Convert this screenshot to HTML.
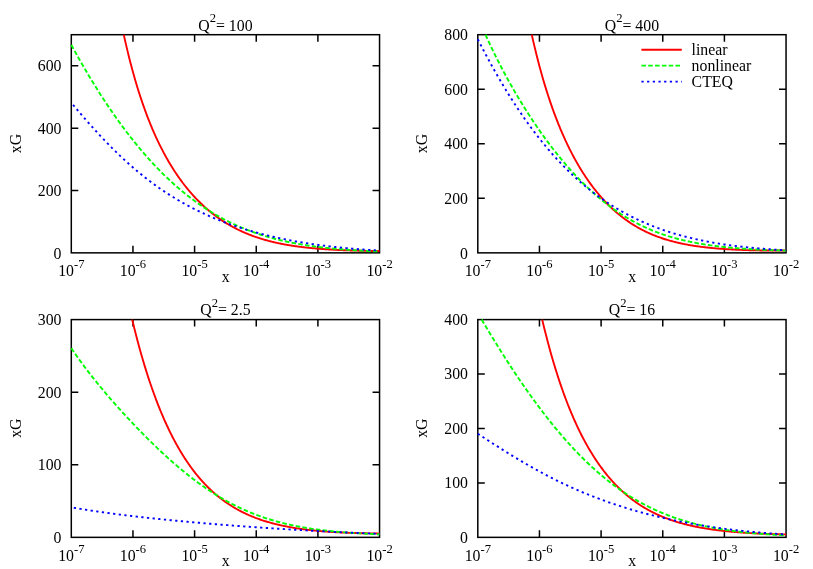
<!DOCTYPE html>
<html>
<head>
<meta charset="utf-8">
<title>xG vs x</title>
<style>
html,body{margin:0;padding:0;background:#fff;}
body{width:813px;height:569px;overflow:hidden;font-family:"Liberation Serif",serif;}
svg{display:block;will-change:transform;}
svg text{font-family:"Liberation Serif", serif;fill:#000;}
</style>
</head>
<body>
<svg width="813" height="569" viewBox="0 0 813 569">
<rect width="813" height="569" fill="#fff"/>
<text x="71.3" y="276.25" text-anchor="middle" font-size="15.8">10<tspan font-size="12.6" dy="-7.9">-7</tspan></text>
<text x="132.95" y="276.25" text-anchor="middle" font-size="15.8">10<tspan font-size="12.6" dy="-7.9">-6</tspan></text>
<text x="194.6" y="276.25" text-anchor="middle" font-size="15.8">10<tspan font-size="12.6" dy="-7.9">-5</tspan></text>
<text x="256.25" y="276.25" text-anchor="middle" font-size="15.8">10<tspan font-size="12.6" dy="-7.9">-4</tspan></text>
<text x="317.9" y="276.25" text-anchor="middle" font-size="15.8">10<tspan font-size="12.6" dy="-7.9">-3</tspan></text>
<text x="379.55" y="276.25" text-anchor="middle" font-size="15.8">10<tspan font-size="12.6" dy="-7.9">-2</tspan></text>
<text x="61.5" y="258.6" text-anchor="end" font-size="15.8">0</text>
<text x="61.5" y="195.92" text-anchor="end" font-size="15.8">200</text>
<text x="61.5" y="133.59" text-anchor="end" font-size="15.8">400</text>
<text x="61.5" y="71.26" text-anchor="end" font-size="15.8">600</text>
<path d="M132.95 252.85v-7M132.95 34.7v7M194.6 252.85v-7M194.6 34.7v7M256.25 252.85v-7M256.25 34.7v7M317.9 252.85v-7M317.9 34.7v7M71.3 190.52h7M379.55 190.52h-7M71.3 128.19h7M379.55 128.19h-7M71.3 65.86h7M379.55 65.86h-7" fill="none" stroke="#000" stroke-width="1.5"/>
<rect x="71.3" y="34.7" width="308.25" height="218.15" fill="none" stroke="#000" stroke-width="1.5"/>
<path d="M123.78 34.7L124.47 37.83L125.24 41.25L126.01 44.61L126.79 47.9L127.56 51.13L128.33 54.29L129.1 57.4L129.87 60.44L130.64 63.43L131.41 66.36L132.18 69.23L132.95 72.06L133.72 74.83L134.49 77.54L135.26 80.21L136.03 82.84L136.8 85.41L137.57 87.94L138.34 90.42L139.11 92.86L139.89 95.26L140.66 97.61L141.43 99.92L142.2 102.2L142.97 104.43L143.74 106.63L144.51 108.79L145.28 110.92L146.05 113.01L146.82 115.06L147.59 117.08L148.36 119.07L149.13 121.02L149.9 122.95L150.67 124.84L151.44 126.7L152.22 128.53L152.99 130.34L153.76 132.11L154.53 133.86L155.3 135.58L156.07 137.28L156.84 138.94L157.61 140.59L158.38 142.2L159.15 143.8L159.92 145.36L160.69 146.91L161.46 148.43L162.23 149.93L163 151.41L163.77 152.87L164.55 154.3L165.32 155.71L166.09 157.11L166.86 158.48L167.63 159.83L168.4 161.17L169.17 162.48L169.94 163.78L170.71 165.05L171.48 166.31L172.25 167.55L173.02 168.78L173.79 169.99L174.56 171.18L175.33 172.35L176.11 173.51L176.88 174.65L177.65 175.77L178.42 176.88L179.19 177.98L179.96 179.06L180.73 180.12L181.5 181.17L182.27 182.21L183.04 183.23L183.81 184.24L184.58 185.24L185.35 186.22L186.12 187.18L186.89 188.14L187.66 189.08L188.44 190.01L189.21 190.93L189.98 191.83L190.75 192.73L191.52 193.61L192.29 194.48L193.06 195.33L193.83 196.18L194.6 197.01L195.37 197.84L196.14 198.65L196.91 199.45L197.68 200.24L198.45 201.02L199.22 201.79L199.99 202.55L200.76 203.3L201.54 204.04L202.31 204.77L203.08 205.49L203.85 206.2L204.62 206.9L205.39 207.59L206.16 208.28L206.93 208.95L207.7 209.61L208.47 210.27L209.24 210.92L210.01 211.55L210.78 212.18L211.55 212.8L212.32 213.41L213.1 214.02L213.87 214.61L214.64 215.2L215.41 215.78L216.18 216.35L216.95 216.92L217.72 217.47L218.49 218.02L219.26 218.56L220.03 219.09L220.8 219.62L221.57 220.14L222.34 220.65L223.11 221.15L223.88 221.65L224.65 222.14L225.43 222.62L226.2 223.1L226.97 223.57L227.74 224.03L228.51 224.49L229.28 224.94L230.05 225.39L230.82 225.82L231.59 226.25L232.36 226.68L233.13 227.1L233.9 227.51L234.67 227.92L235.44 228.32L236.21 228.71L236.98 229.1L237.75 229.49L238.53 229.87L239.3 230.24L240.07 230.6L240.84 230.97L241.61 231.32L242.38 231.67L243.15 232.02L243.92 232.36L244.69 232.69L245.46 233.02L246.23 233.35L247 233.67L247.77 233.99L248.54 234.3L249.31 234.6L250.09 234.9L250.86 235.2L251.63 235.49L252.4 235.78L253.17 236.06L253.94 236.34L254.71 236.61L255.48 236.88L256.25 237.15L257.02 237.41L257.79 237.67L258.56 237.92L259.33 238.17L260.1 238.42L260.87 238.66L261.64 238.89L262.42 239.13L263.19 239.36L263.96 239.58L264.73 239.81L265.5 240.02L266.27 240.24L267.04 240.45L267.81 240.66L268.58 240.86L269.35 241.07L270.12 241.26L270.89 241.46L271.66 241.65L272.43 241.84L273.2 242.02L273.97 242.2L274.75 242.38L275.52 242.56L276.29 242.73L277.06 242.9L277.83 243.07L278.6 243.23L279.37 243.39L280.14 243.55L280.91 243.71L281.68 243.86L282.45 244.01L283.22 244.16L283.99 244.31L284.76 244.45L285.53 244.59L286.3 244.73L287.07 244.86L287.85 244.99L288.62 245.12L289.39 245.25L290.16 245.38L290.93 245.5L291.7 245.62L292.47 245.74L293.24 245.86L294.01 245.98L294.78 246.09L295.55 246.2L296.32 246.31L297.09 246.42L297.86 246.52L298.63 246.62L299.4 246.72L300.18 246.82L300.95 246.92L301.72 247.02L302.49 247.11L303.26 247.2L304.03 247.29L304.8 247.38L305.57 247.47L306.34 247.55L307.11 247.64L307.88 247.72L308.65 247.8L309.42 247.88L310.19 247.96L310.96 248.03L311.74 248.11L312.51 248.18L313.28 248.25L314.05 248.32L314.82 248.39L315.59 248.46L316.36 248.53L317.13 248.59L317.9 248.66L318.67 248.72L319.44 248.78L320.21 248.84L320.98 248.9L321.75 248.96L322.52 249.02L323.29 249.07L324.06 249.13L324.84 249.18L325.61 249.23L326.38 249.28L327.15 249.33L327.92 249.38L328.69 249.43L329.46 249.48L330.23 249.53L331 249.57L331.77 249.62L332.54 249.66L333.31 249.7L334.08 249.74L334.85 249.78L335.62 249.82L336.39 249.86L337.17 249.9L337.94 249.94L338.71 249.98L339.48 250.01L340.25 250.05L341.02 250.08L341.79 250.12L342.56 250.15L343.33 250.18L344.1 250.21L344.87 250.24L345.64 250.27L346.41 250.3L347.18 250.33L347.95 250.36L348.73 250.39L349.5 250.41L350.27 250.44L351.04 250.47L351.81 250.49L352.58 250.51L353.35 250.54L354.12 250.56L354.89 250.58L355.66 250.61L356.43 250.63L357.2 250.65L357.97 250.67L358.74 250.69L359.51 250.71L360.28 250.73L361.06 250.74L361.83 250.76L362.6 250.78L363.37 250.8L364.14 250.81L364.91 250.83L365.68 250.84L366.45 250.86L367.22 250.87L367.99 250.89L368.76 250.9L369.53 250.91L370.3 250.92L371.07 250.94L371.84 250.95L372.61 250.96L373.39 250.97L374.16 250.98L374.93 250.99L375.7 251L376.47 251.01L377.24 251.01L378.01 251.02L378.78 251.03L379.55 251.04" fill="none" stroke="#ff0000" stroke-width="1.9"/>
<path d="M71.3 44.89L72.07 46.3L72.84 47.71L73.61 49.12L74.38 50.51L75.15 51.91L75.92 53.29L76.69 54.68L77.46 56.05L78.24 57.42L79.01 58.78L79.78 60.14L80.55 61.49L81.32 62.84L82.09 64.18L82.86 65.52L83.63 66.85L84.4 68.17L85.17 69.49L85.94 70.8L86.71 72.1L87.48 73.4L88.25 74.7L89.02 75.99L89.79 77.27L90.57 78.55L91.34 79.82L92.11 81.09L92.88 82.35L93.65 83.6L94.42 84.85L95.19 86.09L95.96 87.33L96.73 88.56L97.5 89.79L98.27 91.01L99.04 92.23L99.81 93.43L100.58 94.64L101.35 95.84L102.12 97.03L102.9 98.22L103.67 99.4L104.44 100.57L105.21 101.74L105.98 102.91L106.75 104.06L107.52 105.22L108.29 106.36L109.06 107.51L109.83 108.64L110.6 109.77L111.37 110.9L112.14 112.02L112.91 113.13L113.68 114.24L114.46 115.34L115.23 116.44L116 117.53L116.77 118.62L117.54 119.7L118.31 120.77L119.08 121.84L119.85 122.91L120.62 123.96L121.39 125.02L122.16 126.06L122.93 127.11L123.7 128.14L124.47 129.17L125.24 130.2L126.01 131.22L126.79 132.23L127.56 133.24L128.33 134.24L129.1 135.24L129.87 136.23L130.64 137.22L131.41 138.2L132.18 139.18L132.95 140.15L133.72 141.11L134.49 142.07L135.26 143.03L136.03 143.97L136.8 144.92L137.57 145.86L138.34 146.79L139.11 147.71L139.89 148.64L140.66 149.55L141.43 150.46L142.2 151.37L142.97 152.27L143.74 153.16L144.51 154.05L145.28 154.94L146.05 155.82L146.82 156.69L147.59 157.56L148.36 158.42L149.13 159.28L149.9 160.13L150.67 160.98L151.44 161.82L152.22 162.66L152.99 163.49L153.76 164.31L154.53 165.14L155.3 165.95L156.07 166.76L156.84 167.57L157.61 168.37L158.38 169.16L159.15 169.95L159.92 170.74L160.69 171.51L161.46 172.29L162.23 173.06L163 173.82L163.77 174.58L164.55 175.34L165.32 176.08L166.09 176.83L166.86 177.57L167.63 178.3L168.4 179.03L169.17 179.75L169.94 180.47L170.71 181.18L171.48 181.89L172.25 182.6L173.02 183.29L173.79 183.99L174.56 184.68L175.33 185.36L176.11 186.04L176.88 186.71L177.65 187.38L178.42 188.05L179.19 188.71L179.96 189.36L180.73 190.01L181.5 190.66L182.27 191.3L183.04 191.93L183.81 192.56L184.58 193.19L185.35 193.81L186.12 194.43L186.89 195.04L187.66 195.65L188.44 196.25L189.21 196.85L189.98 197.44L190.75 198.03L191.52 198.61L192.29 199.19L193.06 199.77L193.83 200.34L194.6 200.9L195.37 201.47L196.14 202.02L196.91 202.58L197.68 203.12L198.45 203.67L199.22 204.21L199.99 204.74L200.76 205.27L201.54 205.8L202.31 206.32L203.08 206.84L203.85 207.35L204.62 207.86L205.39 208.36L206.16 208.86L206.93 209.36L207.7 209.85L208.47 210.34L209.24 210.82L210.01 211.3L210.78 211.77L211.55 212.24L212.32 212.71L213.1 213.17L213.87 213.63L214.64 214.09L215.41 214.54L216.18 214.98L216.95 215.43L217.72 215.87L218.49 216.3L219.26 216.73L220.03 217.16L220.8 217.58L221.57 218L222.34 218.41L223.11 218.83L223.88 219.23L224.65 219.64L225.43 220.04L226.2 220.43L226.97 220.82L227.74 221.21L228.51 221.6L229.28 221.98L230.05 222.36L230.82 222.73L231.59 223.1L232.36 223.47L233.13 223.83L233.9 224.19L234.67 224.55L235.44 224.9L236.21 225.25L236.98 225.6L237.75 225.94L238.53 226.28L239.3 226.61L240.07 226.95L240.84 227.28L241.61 227.6L242.38 227.92L243.15 228.24L243.92 228.56L244.69 228.87L245.46 229.18L246.23 229.49L247 229.79L247.77 230.09L248.54 230.39L249.31 230.68L250.09 230.97L250.86 231.26L251.63 231.54L252.4 231.82L253.17 232.1L253.94 232.38L254.71 232.65L255.48 232.92L256.25 233.19L257.02 233.45L257.79 233.71L258.56 233.97L259.33 234.22L260.1 234.48L260.87 234.73L261.64 234.97L262.42 235.22L263.19 235.46L263.96 235.7L264.73 235.93L265.5 236.17L266.27 236.4L267.04 236.63L267.81 236.85L268.58 237.07L269.35 237.29L270.12 237.51L270.89 237.73L271.66 237.94L272.43 238.15L273.2 238.36L273.97 238.56L274.75 238.77L275.52 238.97L276.29 239.17L277.06 239.36L277.83 239.55L278.6 239.75L279.37 239.93L280.14 240.12L280.91 240.31L281.68 240.49L282.45 240.67L283.22 240.85L283.99 241.02L284.76 241.19L285.53 241.37L286.3 241.54L287.07 241.7L287.85 241.87L288.62 242.03L289.39 242.19L290.16 242.35L290.93 242.51L291.7 242.66L292.47 242.82L293.24 242.97L294.01 243.12L294.78 243.26L295.55 243.41L296.32 243.55L297.09 243.69L297.86 243.83L298.63 243.97L299.4 244.11L300.18 244.24L300.95 244.37L301.72 244.51L302.49 244.63L303.26 244.76L304.03 244.89L304.8 245.01L305.57 245.13L306.34 245.26L307.11 245.38L307.88 245.49L308.65 245.61L309.42 245.72L310.19 245.84L310.96 245.95L311.74 246.06L312.51 246.17L313.28 246.27L314.05 246.38L314.82 246.48L315.59 246.58L316.36 246.69L317.13 246.79L317.9 246.88L318.67 246.98L319.44 247.08L320.21 247.17L320.98 247.26L321.75 247.35L322.52 247.44L323.29 247.53L324.06 247.62L324.84 247.71L325.61 247.79L326.38 247.88L327.15 247.96L327.92 248.04L328.69 248.12L329.46 248.2L330.23 248.28L331 248.36L331.77 248.43L332.54 248.51L333.31 248.58L334.08 248.65L334.85 248.72L335.62 248.79L336.39 248.86L337.17 248.93L337.94 249L338.71 249.07L339.48 249.13L340.25 249.19L341.02 249.26L341.79 249.32L342.56 249.38L343.33 249.44L344.1 249.5L344.87 249.56L345.64 249.62L346.41 249.67L347.18 249.73L347.95 249.79L348.73 249.84L349.5 249.89L350.27 249.94L351.04 250L351.81 250.05L352.58 250.1L353.35 250.15L354.12 250.2L354.89 250.24L355.66 250.29L356.43 250.34L357.2 250.38L357.97 250.43L358.74 250.47L359.51 250.51L360.28 250.56L361.06 250.6L361.83 250.64L362.6 250.68L363.37 250.72L364.14 250.76L364.91 250.8L365.68 250.83L366.45 250.87L367.22 250.91L367.99 250.94L368.76 250.98L369.53 251.02L370.3 251.05L371.07 251.08L371.84 251.12L372.61 251.15L373.39 251.18L374.16 251.21L374.93 251.24L375.7 251.27L376.47 251.3L377.24 251.33L378.01 251.36L378.78 251.39L379.55 251.42" fill="none" stroke="#00ff00" stroke-width="1.9" stroke-dasharray="4.55 2.27"/>
<path d="M71.3 102.74L72.07 103.66L72.84 104.57L73.61 105.49L74.38 106.4L75.15 107.32L75.92 108.23L76.69 109.14L77.46 110.05L78.24 110.95L79.01 111.85L79.78 112.76L80.55 113.66L81.32 114.55L82.09 115.45L82.86 116.34L83.63 117.23L84.4 118.12L85.17 119L85.94 119.89L86.71 120.77L87.48 121.64L88.25 122.52L89.02 123.39L89.79 124.26L90.57 125.13L91.34 125.99L92.11 126.85L92.88 127.71L93.65 128.56L94.42 129.41L95.19 130.26L95.96 131.11L96.73 131.95L97.5 132.79L98.27 133.62L99.04 134.46L99.81 135.28L100.58 136.11L101.35 136.93L102.12 137.75L102.9 138.57L103.67 139.38L104.44 140.19L105.21 140.99L105.98 141.79L106.75 142.59L107.52 143.38L108.29 144.17L109.06 144.96L109.83 145.75L110.6 146.52L111.37 147.3L112.14 148.07L112.91 148.84L113.68 149.61L114.46 150.37L115.23 151.12L116 151.88L116.77 152.63L117.54 153.37L118.31 154.11L119.08 154.85L119.85 155.59L120.62 156.32L121.39 157.04L122.16 157.77L122.93 158.48L123.7 159.2L124.47 159.91L125.24 160.62L126.01 161.32L126.79 162.02L127.56 162.72L128.33 163.41L129.1 164.1L129.87 164.78L130.64 165.46L131.41 166.14L132.18 166.81L132.95 167.48L133.72 168.14L134.49 168.8L135.26 169.46L136.03 170.11L136.8 170.76L137.57 171.4L138.34 172.04L139.11 172.68L139.89 173.32L140.66 173.94L141.43 174.57L142.2 175.19L142.97 175.81L143.74 176.42L144.51 177.03L145.28 177.64L146.05 178.24L146.82 178.84L147.59 179.44L148.36 180.03L149.13 180.62L149.9 181.2L150.67 181.78L151.44 182.36L152.22 182.93L152.99 183.5L153.76 184.06L154.53 184.63L155.3 185.18L156.07 185.74L156.84 186.29L157.61 186.84L158.38 187.38L159.15 187.92L159.92 188.46L160.69 188.99L161.46 189.52L162.23 190.04L163 190.57L163.77 191.08L164.55 191.6L165.32 192.11L166.09 192.62L166.86 193.12L167.63 193.62L168.4 194.12L169.17 194.62L169.94 195.11L170.71 195.59L171.48 196.08L172.25 196.56L173.02 197.04L173.79 197.51L174.56 197.98L175.33 198.45L176.11 198.91L176.88 199.37L177.65 199.83L178.42 200.29L179.19 200.74L179.96 201.19L180.73 201.63L181.5 202.07L182.27 202.51L183.04 202.95L183.81 203.38L184.58 203.81L185.35 204.23L186.12 204.66L186.89 205.08L187.66 205.5L188.44 205.91L189.21 206.32L189.98 206.73L190.75 207.13L191.52 207.54L192.29 207.94L193.06 208.33L193.83 208.73L194.6 209.12L195.37 209.5L196.14 209.89L196.91 210.27L197.68 210.65L198.45 211.03L199.22 211.4L199.99 211.77L200.76 212.14L201.54 212.51L202.31 212.87L203.08 213.23L203.85 213.59L204.62 213.94L205.39 214.3L206.16 214.65L206.93 214.99L207.7 215.34L208.47 215.68L209.24 216.02L210.01 216.36L210.78 216.69L211.55 217.02L212.32 217.35L213.1 217.68L213.87 218.01L214.64 218.33L215.41 218.65L216.18 218.96L216.95 219.28L217.72 219.59L218.49 219.9L219.26 220.21L220.03 220.52L220.8 220.82L221.57 221.12L222.34 221.42L223.11 221.72L223.88 222.01L224.65 222.3L225.43 222.59L226.2 222.88L226.97 223.16L227.74 223.45L228.51 223.73L229.28 224.01L230.05 224.28L230.82 224.56L231.59 224.83L232.36 225.1L233.13 225.37L233.9 225.64L234.67 225.9L235.44 226.16L236.21 226.42L236.98 226.68L237.75 226.94L238.53 227.19L239.3 227.44L240.07 227.69L240.84 227.94L241.61 228.19L242.38 228.43L243.15 228.68L243.92 228.92L244.69 229.16L245.46 229.39L246.23 229.63L247 229.86L247.77 230.09L248.54 230.32L249.31 230.55L250.09 230.78L250.86 231L251.63 231.22L252.4 231.44L253.17 231.66L253.94 231.88L254.71 232.1L255.48 232.31L256.25 232.52L257.02 232.73L257.79 232.94L258.56 233.15L259.33 233.35L260.1 233.56L260.87 233.76L261.64 233.96L262.42 234.16L263.19 234.36L263.96 234.55L264.73 234.75L265.5 234.94L266.27 235.13L267.04 235.32L267.81 235.51L268.58 235.69L269.35 235.88L270.12 236.06L270.89 236.25L271.66 236.43L272.43 236.6L273.2 236.78L273.97 236.96L274.75 237.13L275.52 237.31L276.29 237.48L277.06 237.65L277.83 237.82L278.6 237.98L279.37 238.15L280.14 238.32L280.91 238.48L281.68 238.64L282.45 238.8L283.22 238.96L283.99 239.12L284.76 239.28L285.53 239.43L286.3 239.58L287.07 239.74L287.85 239.89L288.62 240.04L289.39 240.19L290.16 240.34L290.93 240.48L291.7 240.63L292.47 240.77L293.24 240.91L294.01 241.05L294.78 241.19L295.55 241.33L296.32 241.47L297.09 241.61L297.86 241.74L298.63 241.88L299.4 242.01L300.18 242.14L300.95 242.27L301.72 242.4L302.49 242.53L303.26 242.66L304.03 242.78L304.8 242.91L305.57 243.03L306.34 243.15L307.11 243.27L307.88 243.39L308.65 243.51L309.42 243.63L310.19 243.75L310.96 243.86L311.74 243.98L312.51 244.09L313.28 244.2L314.05 244.32L314.82 244.43L315.59 244.54L316.36 244.64L317.13 244.75L317.9 244.86L318.67 244.96L319.44 245.07L320.21 245.17L320.98 245.27L321.75 245.38L322.52 245.48L323.29 245.58L324.06 245.67L324.84 245.77L325.61 245.87L326.38 245.96L327.15 246.06L327.92 246.15L328.69 246.24L329.46 246.34L330.23 246.43L331 246.52L331.77 246.61L332.54 246.69L333.31 246.78L334.08 246.87L334.85 246.95L335.62 247.04L336.39 247.12L337.17 247.2L337.94 247.29L338.71 247.37L339.48 247.45L340.25 247.53L341.02 247.6L341.79 247.68L342.56 247.76L343.33 247.84L344.1 247.91L344.87 247.98L345.64 248.06L346.41 248.13L347.18 248.2L347.95 248.27L348.73 248.34L349.5 248.41L350.27 248.48L351.04 248.55L351.81 248.62L352.58 248.68L353.35 248.75L354.12 248.81L354.89 248.88L355.66 248.94L356.43 249L357.2 249.07L357.97 249.13L358.74 249.19L359.51 249.25L360.28 249.31L361.06 249.36L361.83 249.42L362.6 249.48L363.37 249.53L364.14 249.59L364.91 249.64L365.68 249.7L366.45 249.75L367.22 249.8L367.99 249.86L368.76 249.91L369.53 249.96L370.3 250.01L371.07 250.06L371.84 250.11L372.61 250.15L373.39 250.2L374.16 250.25L374.93 250.29L375.7 250.34L376.47 250.38L377.24 250.43L378.01 250.47L378.78 250.52L379.55 250.56" fill="none" stroke="#0000ff" stroke-width="1.9" stroke-dasharray="2.27 3.41" stroke-dashoffset="-2.7"/>
<text x="225.43" y="30.6" text-anchor="middle" font-size="15.8">Q<tspan font-size="12.6" dy="-8.2">2</tspan><tspan dy="8.2">= 100</tspan></text>
<text x="225.62" y="281.95" text-anchor="middle" font-size="15.8">x</text>
<text transform="translate(20.8 143.47) rotate(-90)" text-anchor="middle" font-size="15.8">xG</text>
<text x="477.8" y="276.25" text-anchor="middle" font-size="15.8">10<tspan font-size="12.6" dy="-7.9">-7</tspan></text>
<text x="539.45" y="276.25" text-anchor="middle" font-size="15.8">10<tspan font-size="12.6" dy="-7.9">-6</tspan></text>
<text x="601.1" y="276.25" text-anchor="middle" font-size="15.8">10<tspan font-size="12.6" dy="-7.9">-5</tspan></text>
<text x="662.75" y="276.25" text-anchor="middle" font-size="15.8">10<tspan font-size="12.6" dy="-7.9">-4</tspan></text>
<text x="724.4" y="276.25" text-anchor="middle" font-size="15.8">10<tspan font-size="12.6" dy="-7.9">-3</tspan></text>
<text x="786.05" y="276.25" text-anchor="middle" font-size="15.8">10<tspan font-size="12.6" dy="-7.9">-2</tspan></text>
<text x="468" y="258.6" text-anchor="end" font-size="15.8">0</text>
<text x="468" y="203.71" text-anchor="end" font-size="15.8">200</text>
<text x="468" y="149.18" text-anchor="end" font-size="15.8">400</text>
<text x="468" y="94.64" text-anchor="end" font-size="15.8">600</text>
<text x="468" y="40.1" text-anchor="end" font-size="15.8">800</text>
<path d="M539.45 252.85v-7M539.45 34.7v7M601.1 252.85v-7M601.1 34.7v7M662.75 252.85v-7M662.75 34.7v7M724.4 252.85v-7M724.4 34.7v7M477.8 198.31h7M786.05 198.31h-7M477.8 143.78h7M786.05 143.78h-7M477.8 89.24h7M786.05 89.24h-7" fill="none" stroke="#000" stroke-width="1.5"/>
<rect x="477.8" y="34.7" width="308.25" height="218.15" fill="none" stroke="#000" stroke-width="1.5"/>
<path d="M531.78 34.7L532.51 37.97L533.29 41.34L534.06 44.64L534.83 47.89L535.6 51.08L536.37 54.2L537.14 57.27L537.91 60.29L538.68 63.24L539.45 66.15L540.22 69L540.99 71.81L541.76 74.56L542.53 77.27L543.3 79.93L544.07 82.54L544.84 85.11L545.62 87.63L546.39 90.12L547.16 92.56L547.93 94.96L548.7 97.32L549.47 99.64L550.24 101.92L551.01 104.17L551.78 106.38L552.55 108.56L553.32 110.7L554.09 112.8L554.86 114.88L555.63 116.92L556.4 118.93L557.17 120.91L557.94 122.85L558.72 124.77L559.49 126.66L560.26 128.52L561.03 130.36L561.8 132.16L562.57 133.94L563.34 135.69L564.11 137.42L564.88 139.12L565.65 140.79L566.42 142.44L567.19 144.07L567.96 145.67L568.73 147.26L569.5 148.81L570.27 150.35L571.05 151.86L571.82 153.36L572.59 154.83L573.36 156.28L574.13 157.71L574.9 159.12L575.67 160.51L576.44 161.88L577.21 163.23L577.98 164.57L578.75 165.88L579.52 167.18L580.29 168.46L581.06 169.72L581.83 170.96L582.61 172.19L583.38 173.4L584.15 174.59L584.92 175.77L585.69 176.93L586.46 178.08L587.23 179.21L588 180.32L588.77 181.42L589.54 182.51L590.31 183.58L591.08 184.63L591.85 185.67L592.62 186.7L593.39 187.72L594.16 188.71L594.93 189.7L595.71 190.67L596.48 191.63L597.25 192.58L598.02 193.51L598.79 194.43L599.56 195.34L600.33 196.24L601.1 197.12L601.87 197.99L602.64 198.85L603.41 199.7L604.18 200.53L604.95 201.36L605.72 202.17L606.49 202.97L607.26 203.77L608.04 204.54L608.81 205.31L609.58 206.07L610.35 206.82L611.12 207.56L611.89 208.28L612.66 209L613.43 209.71L614.2 210.41L614.97 211.09L615.74 211.77L616.51 212.44L617.28 213.1L618.05 213.74L618.82 214.38L619.6 215.01L620.37 215.63L621.14 216.25L621.91 216.85L622.68 217.44L623.45 218.03L624.22 218.61L624.99 219.18L625.76 219.74L626.53 220.29L627.3 220.83L628.07 221.37L628.84 221.89L629.61 222.41L630.38 222.93L631.15 223.43L631.92 223.93L632.7 224.42L633.47 224.9L634.24 225.37L635.01 225.84L635.78 226.3L636.55 226.75L637.32 227.2L638.09 227.64L638.86 228.07L639.63 228.49L640.4 228.91L641.17 229.32L641.94 229.73L642.71 230.13L643.48 230.52L644.25 230.91L645.03 231.29L645.8 231.66L646.57 232.03L647.34 232.39L648.11 232.75L648.88 233.1L649.65 233.44L650.42 233.78L651.19 234.11L651.96 234.44L652.73 234.76L653.5 235.08L654.27 235.39L655.04 235.7L655.81 236L656.59 236.29L657.36 236.58L658.13 236.87L658.9 237.15L659.67 237.43L660.44 237.7L661.21 237.97L661.98 238.23L662.75 238.49L663.52 238.74L664.29 238.99L665.06 239.23L665.83 239.47L666.6 239.71L667.37 239.94L668.14 240.17L668.91 240.39L669.69 240.61L670.46 240.82L671.23 241.04L672 241.24L672.77 241.45L673.54 241.65L674.31 241.84L675.08 242.04L675.85 242.23L676.62 242.41L677.39 242.6L678.16 242.78L678.93 242.95L679.7 243.12L680.47 243.29L681.25 243.46L682.02 243.62L682.79 243.78L683.56 243.94L684.33 244.09L685.1 244.25L685.87 244.39L686.64 244.54L687.41 244.68L688.18 244.82L688.95 244.96L689.72 245.09L690.49 245.23L691.26 245.35L692.03 245.48L692.8 245.61L693.57 245.73L694.35 245.85L695.12 245.97L695.89 246.08L696.66 246.19L697.43 246.3L698.2 246.41L698.97 246.52L699.74 246.62L700.51 246.72L701.28 246.82L702.05 246.92L702.82 247.02L703.59 247.11L704.36 247.2L705.13 247.29L705.9 247.38L706.68 247.47L707.45 247.55L708.22 247.64L708.99 247.72L709.76 247.8L710.53 247.87L711.3 247.95L712.07 248.03L712.84 248.1L713.61 248.17L714.38 248.24L715.15 248.31L715.92 248.38L716.69 248.44L717.46 248.51L718.24 248.57L719.01 248.63L719.78 248.69L720.55 248.75L721.32 248.81L722.09 248.86L722.86 248.92L723.63 248.97L724.4 249.03L725.17 249.08L725.94 249.13L726.71 249.18L727.48 249.23L728.25 249.27L729.02 249.32L729.79 249.36L730.57 249.41L731.34 249.45L732.11 249.49L732.88 249.53L733.65 249.57L734.42 249.61L735.19 249.65L735.96 249.68L736.73 249.72L737.5 249.76L738.27 249.79L739.04 249.82L739.81 249.86L740.58 249.89L741.35 249.92L742.12 249.95L742.89 249.98L743.67 250.01L744.44 250.03L745.21 250.06L745.98 250.09L746.75 250.11L747.52 250.14L748.29 250.16L749.06 250.18L749.83 250.2L750.6 250.23L751.37 250.25L752.14 250.27L752.91 250.29L753.68 250.3L754.45 250.32L755.22 250.34L756 250.36L756.77 250.37L757.54 250.39L758.31 250.4L759.08 250.42L759.85 250.43L760.62 250.44L761.39 250.45L762.16 250.47L762.93 250.48L763.7 250.49L764.47 250.5L765.24 250.5L766.01 250.51L766.78 250.52L767.55 250.53L768.33 250.53L769.1 250.54L769.87 250.54L770.64 250.55L771.41 250.55L772.18 250.55L772.95 250.56L773.72 250.56L774.49 250.56L775.26 250.56L776.03 250.56L776.8 250.56L777.57 250.56L778.34 250.55L779.11 250.55L779.88 250.55L780.66 250.54L781.43 250.54L782.2 250.53L782.97 250.52L783.74 250.51L784.51 250.5L785.28 250.5L786.05 250.48" fill="none" stroke="#ff0000" stroke-width="1.9"/>
<path d="M485.47 34.7L485.51 34.77L486.28 36.47L487.05 38.16L487.82 39.83L488.59 41.49L489.36 43.14L490.13 44.77L490.9 46.4L491.67 48.01L492.44 49.61L493.21 51.2L493.98 52.78L494.75 54.35L495.52 55.9L496.3 57.45L497.07 58.98L497.84 60.51L498.61 62.02L499.38 63.53L500.15 65.02L500.92 66.51L501.69 67.98L502.46 69.45L503.23 70.9L504 72.35L504.77 73.79L505.54 75.21L506.31 76.63L507.08 78.04L507.85 79.45L508.62 80.84L509.4 82.22L510.17 83.6L510.94 84.97L511.71 86.33L512.48 87.68L513.25 89.02L514.02 90.36L514.79 91.69L515.56 93.01L516.33 94.32L517.1 95.62L517.87 96.92L518.64 98.21L519.41 99.49L520.18 100.77L520.96 102.03L521.73 103.29L522.5 104.55L523.27 105.79L524.04 107.03L524.81 108.26L525.58 109.49L526.35 110.71L527.12 111.92L527.89 113.12L528.66 114.32L529.43 115.51L530.2 116.69L530.97 117.87L531.74 119.04L532.51 120.2L533.29 121.36L534.06 122.51L534.83 123.66L535.6 124.8L536.37 125.93L537.14 127.05L537.91 128.17L538.68 129.28L539.45 130.39L540.22 131.49L540.99 132.58L541.76 133.67L542.53 134.75L543.3 135.83L544.07 136.9L544.84 137.96L545.62 139.02L546.39 140.07L547.16 141.11L547.93 142.15L548.7 143.18L549.47 144.21L550.24 145.23L551.01 146.24L551.78 147.25L552.55 148.25L553.32 149.24L554.09 150.23L554.86 151.22L555.63 152.2L556.4 153.17L557.17 154.13L557.94 155.09L558.72 156.05L559.49 157L560.26 157.94L561.03 158.87L561.8 159.8L562.57 160.73L563.34 161.65L564.11 162.56L564.88 163.47L565.65 164.37L566.42 165.26L567.19 166.15L567.96 167.03L568.73 167.91L569.5 168.78L570.27 169.65L571.05 170.51L571.82 171.36L572.59 172.21L573.36 173.05L574.13 173.89L574.9 174.72L575.67 175.54L576.44 176.36L577.21 177.17L577.98 177.98L578.75 178.78L579.52 179.58L580.29 180.37L581.06 181.15L581.83 181.93L582.61 182.7L583.38 183.47L584.15 184.23L584.92 184.98L585.69 185.73L586.46 186.48L587.23 187.21L588 187.95L588.77 188.67L589.54 189.39L590.31 190.11L591.08 190.82L591.85 191.52L592.62 192.22L593.39 192.91L594.16 193.6L594.93 194.28L595.71 194.95L596.48 195.62L597.25 196.29L598.02 196.95L598.79 197.6L599.56 198.25L600.33 198.89L601.1 199.52L601.87 200.15L602.64 200.78L603.41 201.4L604.18 202.01L604.95 202.62L605.72 203.23L606.49 203.82L607.26 204.42L608.04 205L608.81 205.58L609.58 206.16L610.35 206.73L611.12 207.3L611.89 207.86L612.66 208.41L613.43 208.96L614.2 209.51L614.97 210.05L615.74 210.58L616.51 211.11L617.28 211.63L618.05 212.15L618.82 212.67L619.6 213.17L620.37 213.68L621.14 214.18L621.91 214.67L622.68 215.16L623.45 215.64L624.22 216.12L624.99 216.59L625.76 217.06L626.53 217.52L627.3 217.98L628.07 218.44L628.84 218.88L629.61 219.33L630.38 219.77L631.15 220.2L631.92 220.63L632.7 221.06L633.47 221.48L634.24 221.89L635.01 222.31L635.78 222.71L636.55 223.12L637.32 223.51L638.09 223.91L638.86 224.3L639.63 224.68L640.4 225.06L641.17 225.44L641.94 225.81L642.71 226.18L643.48 226.54L644.25 226.9L645.03 227.25L645.8 227.6L646.57 227.95L647.34 228.29L648.11 228.63L648.88 228.96L649.65 229.29L650.42 229.62L651.19 229.94L651.96 230.26L652.73 230.57L653.5 230.88L654.27 231.19L655.04 231.49L655.81 231.79L656.59 232.08L657.36 232.38L658.13 232.66L658.9 232.95L659.67 233.23L660.44 233.51L661.21 233.78L661.98 234.05L662.75 234.31L663.52 234.58L664.29 234.84L665.06 235.09L665.83 235.35L666.6 235.6L667.37 235.84L668.14 236.09L668.91 236.32L669.69 236.56L670.46 236.79L671.23 237.02L672 237.25L672.77 237.48L673.54 237.7L674.31 237.92L675.08 238.13L675.85 238.34L676.62 238.55L677.39 238.76L678.16 238.96L678.93 239.16L679.7 239.36L680.47 239.56L681.25 239.75L682.02 239.94L682.79 240.12L683.56 240.31L684.33 240.49L685.1 240.67L685.87 240.85L686.64 241.02L687.41 241.19L688.18 241.36L688.95 241.53L689.72 241.69L690.49 241.85L691.26 242.01L692.03 242.17L692.8 242.33L693.57 242.48L694.35 242.63L695.12 242.78L695.89 242.92L696.66 243.07L697.43 243.21L698.2 243.35L698.97 243.49L699.74 243.62L700.51 243.76L701.28 243.89L702.05 244.02L702.82 244.15L703.59 244.27L704.36 244.4L705.13 244.52L705.9 244.64L706.68 244.76L707.45 244.87L708.22 244.99L708.99 245.1L709.76 245.21L710.53 245.32L711.3 245.43L712.07 245.53L712.84 245.64L713.61 245.74L714.38 245.84L715.15 245.94L715.92 246.04L716.69 246.14L717.46 246.23L718.24 246.33L719.01 246.42L719.78 246.51L720.55 246.6L721.32 246.69L722.09 246.77L722.86 246.86L723.63 246.94L724.4 247.02L725.17 247.11L725.94 247.18L726.71 247.26L727.48 247.34L728.25 247.42L729.02 247.49L729.79 247.57L730.57 247.64L731.34 247.71L732.11 247.78L732.88 247.85L733.65 247.92L734.42 247.98L735.19 248.05L735.96 248.11L736.73 248.18L737.5 248.24L738.27 248.3L739.04 248.36L739.81 248.42L740.58 248.48L741.35 248.54L742.12 248.59L742.89 248.65L743.67 248.7L744.44 248.76L745.21 248.81L745.98 248.86L746.75 248.91L747.52 248.96L748.29 249.01L749.06 249.06L749.83 249.11L750.6 249.15L751.37 249.2L752.14 249.25L752.91 249.29L753.68 249.33L754.45 249.38L755.22 249.42L756 249.46L756.77 249.5L757.54 249.54L758.31 249.58L759.08 249.62L759.85 249.66L760.62 249.7L761.39 249.73L762.16 249.77L762.93 249.8L763.7 249.84L764.47 249.87L765.24 249.91L766.01 249.94L766.78 249.97L767.55 250.01L768.33 250.04L769.1 250.07L769.87 250.1L770.64 250.13L771.41 250.16L772.18 250.18L772.95 250.21L773.72 250.24L774.49 250.27L775.26 250.29L776.03 250.32L776.8 250.35L777.57 250.37L778.34 250.4L779.11 250.42L779.88 250.44L780.66 250.47L781.43 250.49L782.2 250.51L782.97 250.53L783.74 250.55L784.51 250.58L785.28 250.6L786.05 250.62" fill="none" stroke="#00ff00" stroke-width="1.9" stroke-dasharray="4.55 2.27"/>
<path d="M477.8 39.26L478.57 40.77L479.34 42.28L480.11 43.78L480.88 45.27L481.65 46.76L482.42 48.24L483.19 49.71L483.96 51.18L484.74 52.63L485.51 54.09L486.28 55.53L487.05 56.97L487.82 58.4L488.59 59.82L489.36 61.24L490.13 62.65L490.9 64.05L491.67 65.45L492.44 66.84L493.21 68.22L493.98 69.59L494.75 70.96L495.52 72.32L496.3 73.68L497.07 75.02L497.84 76.37L498.61 77.7L499.38 79.02L500.15 80.34L500.92 81.66L501.69 82.96L502.46 84.26L503.23 85.55L504 86.84L504.77 88.11L505.54 89.38L506.31 90.65L507.08 91.91L507.85 93.16L508.62 94.4L509.4 95.63L510.17 96.86L510.94 98.09L511.71 99.3L512.48 100.51L513.25 101.71L514.02 102.91L514.79 104.1L515.56 105.28L516.33 106.45L517.1 107.62L517.87 108.78L518.64 109.93L519.41 111.08L520.18 112.22L520.96 113.36L521.73 114.48L522.5 115.6L523.27 116.72L524.04 117.83L524.81 118.93L525.58 120.02L526.35 121.11L527.12 122.19L527.89 123.26L528.66 124.33L529.43 125.39L530.2 126.45L530.97 127.49L531.74 128.54L532.51 129.57L533.29 130.6L534.06 131.62L534.83 132.64L535.6 133.65L536.37 134.65L537.14 135.64L537.91 136.63L538.68 137.62L539.45 138.6L540.22 139.57L540.99 140.53L541.76 141.49L542.53 142.44L543.3 143.39L544.07 144.33L544.84 145.26L545.62 146.19L546.39 147.11L547.16 148.03L547.93 148.93L548.7 149.84L549.47 150.74L550.24 151.63L551.01 152.51L551.78 153.39L552.55 154.26L553.32 155.13L554.09 155.99L554.86 156.85L555.63 157.7L556.4 158.54L557.17 159.38L557.94 160.21L558.72 161.04L559.49 161.86L560.26 162.67L561.03 163.48L561.8 164.28L562.57 165.08L563.34 165.87L564.11 166.66L564.88 167.44L565.65 168.22L566.42 168.99L567.19 169.75L567.96 170.51L568.73 171.26L569.5 172.01L570.27 172.75L571.05 173.49L571.82 174.22L572.59 174.95L573.36 175.67L574.13 176.38L574.9 177.09L575.67 177.8L576.44 178.5L577.21 179.19L577.98 179.88L578.75 180.57L579.52 181.25L580.29 181.92L581.06 182.59L581.83 183.25L582.61 183.91L583.38 184.57L584.15 185.22L584.92 185.86L585.69 186.5L586.46 187.13L587.23 187.76L588 188.39L588.77 189.01L589.54 189.62L590.31 190.23L591.08 190.84L591.85 191.44L592.62 192.04L593.39 192.63L594.16 193.21L594.93 193.8L595.71 194.37L596.48 194.95L597.25 195.52L598.02 196.08L598.79 196.64L599.56 197.19L600.33 197.75L601.1 198.29L601.87 198.83L602.64 199.37L603.41 199.9L604.18 200.43L604.95 200.96L605.72 201.48L606.49 201.99L607.26 202.51L608.04 203.01L608.81 203.52L609.58 204.02L610.35 204.51L611.12 205L611.89 205.49L612.66 205.97L613.43 206.45L614.2 206.93L614.97 207.4L615.74 207.86L616.51 208.33L617.28 208.79L618.05 209.24L618.82 209.69L619.6 210.14L620.37 210.58L621.14 211.02L621.91 211.46L622.68 211.89L623.45 212.32L624.22 212.75L624.99 213.17L625.76 213.59L626.53 214L627.3 214.41L628.07 214.82L628.84 215.22L629.61 215.62L630.38 216.02L631.15 216.41L631.92 216.8L632.7 217.19L633.47 217.57L634.24 217.95L635.01 218.32L635.78 218.7L636.55 219.07L637.32 219.43L638.09 219.8L638.86 220.15L639.63 220.51L640.4 220.86L641.17 221.21L641.94 221.56L642.71 221.9L643.48 222.24L644.25 222.58L645.03 222.92L645.8 223.25L646.57 223.58L647.34 223.9L648.11 224.22L648.88 224.54L649.65 224.86L650.42 225.17L651.19 225.48L651.96 225.79L652.73 226.09L653.5 226.4L654.27 226.69L655.04 226.99L655.81 227.28L656.59 227.57L657.36 227.86L658.13 228.15L658.9 228.43L659.67 228.71L660.44 228.99L661.21 229.26L661.98 229.53L662.75 229.8L663.52 230.07L664.29 230.33L665.06 230.59L665.83 230.85L666.6 231.11L667.37 231.36L668.14 231.61L668.91 231.86L669.69 232.11L670.46 232.35L671.23 232.59L672 232.83L672.77 233.07L673.54 233.31L674.31 233.54L675.08 233.77L675.85 234L676.62 234.22L677.39 234.44L678.16 234.67L678.93 234.88L679.7 235.1L680.47 235.31L681.25 235.53L682.02 235.74L682.79 235.94L683.56 236.15L684.33 236.35L685.1 236.56L685.87 236.75L686.64 236.95L687.41 237.15L688.18 237.34L688.95 237.53L689.72 237.72L690.49 237.91L691.26 238.09L692.03 238.28L692.8 238.46L693.57 238.64L694.35 238.82L695.12 238.99L695.89 239.17L696.66 239.34L697.43 239.51L698.2 239.68L698.97 239.85L699.74 240.01L700.51 240.17L701.28 240.33L702.05 240.49L702.82 240.65L703.59 240.81L704.36 240.96L705.13 241.12L705.9 241.27L706.68 241.42L707.45 241.57L708.22 241.71L708.99 241.86L709.76 242L710.53 242.14L711.3 242.28L712.07 242.42L712.84 242.56L713.61 242.69L714.38 242.83L715.15 242.96L715.92 243.09L716.69 243.22L717.46 243.35L718.24 243.47L719.01 243.6L719.78 243.72L720.55 243.85L721.32 243.97L722.09 244.09L722.86 244.21L723.63 244.32L724.4 244.44L725.17 244.55L725.94 244.66L726.71 244.78L727.48 244.89L728.25 245L729.02 245.1L729.79 245.21L730.57 245.32L731.34 245.42L732.11 245.52L732.88 245.62L733.65 245.72L734.42 245.82L735.19 245.92L735.96 246.02L736.73 246.11L737.5 246.21L738.27 246.3L739.04 246.39L739.81 246.49L740.58 246.58L741.35 246.66L742.12 246.75L742.89 246.84L743.67 246.93L744.44 247.01L745.21 247.09L745.98 247.18L746.75 247.26L747.52 247.34L748.29 247.42L749.06 247.5L749.83 247.58L750.6 247.65L751.37 247.73L752.14 247.8L752.91 247.88L753.68 247.95L754.45 248.02L755.22 248.09L756 248.16L756.77 248.23L757.54 248.3L758.31 248.37L759.08 248.44L759.85 248.5L760.62 248.57L761.39 248.63L762.16 248.7L762.93 248.76L763.7 248.82L764.47 248.88L765.24 248.94L766.01 249L766.78 249.06L767.55 249.12L768.33 249.17L769.1 249.23L769.87 249.29L770.64 249.34L771.41 249.4L772.18 249.45L772.95 249.5L773.72 249.55L774.49 249.61L775.26 249.66L776.03 249.71L776.8 249.76L777.57 249.8L778.34 249.85L779.11 249.9L779.88 249.95L780.66 249.99L781.43 250.04L782.2 250.08L782.97 250.13L783.74 250.17L784.51 250.21L785.28 250.26L786.05 250.3" fill="none" stroke="#0000ff" stroke-width="1.9" stroke-dasharray="2.27 3.41"/>
<text x="631.92" y="30.6" text-anchor="middle" font-size="15.8">Q<tspan font-size="12.6" dy="-8.2">2</tspan><tspan dy="8.2">= 400</tspan></text>
<text x="632.12" y="281.95" text-anchor="middle" font-size="15.8">x</text>
<text transform="translate(427.3 143.47) rotate(-90)" text-anchor="middle" font-size="15.8">xG</text>
<text x="71.3" y="560.75" text-anchor="middle" font-size="15.8">10<tspan font-size="12.6" dy="-7.9">-7</tspan></text>
<text x="132.95" y="560.75" text-anchor="middle" font-size="15.8">10<tspan font-size="12.6" dy="-7.9">-6</tspan></text>
<text x="194.6" y="560.75" text-anchor="middle" font-size="15.8">10<tspan font-size="12.6" dy="-7.9">-5</tspan></text>
<text x="256.25" y="560.75" text-anchor="middle" font-size="15.8">10<tspan font-size="12.6" dy="-7.9">-4</tspan></text>
<text x="317.9" y="560.75" text-anchor="middle" font-size="15.8">10<tspan font-size="12.6" dy="-7.9">-3</tspan></text>
<text x="379.55" y="560.75" text-anchor="middle" font-size="15.8">10<tspan font-size="12.6" dy="-7.9">-2</tspan></text>
<text x="61.5" y="543.1" text-anchor="end" font-size="15.8">0</text>
<text x="61.5" y="470.17" text-anchor="end" font-size="15.8">100</text>
<text x="61.5" y="397.58" text-anchor="end" font-size="15.8">200</text>
<text x="61.5" y="325" text-anchor="end" font-size="15.8">300</text>
<path d="M132.95 537.35v-7M132.95 319.6v7M194.6 537.35v-7M194.6 319.6v7M256.25 537.35v-7M256.25 319.6v7M317.9 537.35v-7M317.9 319.6v7M71.3 464.77h7M379.55 464.77h-7M71.3 392.18h7M379.55 392.18h-7" fill="none" stroke="#000" stroke-width="1.5"/>
<rect x="71.3" y="319.6" width="308.25" height="217.75" fill="none" stroke="#000" stroke-width="1.5"/>
<path d="M132.21 319.6L132.95 322.66L133.72 325.82L134.49 328.93L135.26 331.99L136.03 335.01L136.8 337.98L137.57 340.91L138.34 343.8L139.11 346.64L139.89 349.44L140.66 352.19L141.43 354.91L142.2 357.58L142.97 360.22L143.74 362.82L144.51 365.37L145.28 367.89L146.05 370.38L146.82 372.83L147.59 375.24L148.36 377.61L149.13 379.95L149.9 382.26L150.67 384.53L151.44 386.77L152.22 388.98L152.99 391.16L153.76 393.3L154.53 395.42L155.3 397.5L156.07 399.55L156.84 401.57L157.61 403.57L158.38 405.53L159.15 407.47L159.92 409.38L160.69 411.26L161.46 413.11L162.23 414.94L163 416.74L163.77 418.52L164.55 420.27L165.32 421.99L166.09 423.69L166.86 425.37L167.63 427.02L168.4 428.65L169.17 430.25L169.94 431.84L170.71 433.39L171.48 434.93L172.25 436.45L173.02 437.94L173.79 439.41L174.56 440.86L175.33 442.29L176.11 443.7L176.88 445.09L177.65 446.46L178.42 447.81L179.19 449.14L179.96 450.46L180.73 451.75L181.5 453.02L182.27 454.28L183.04 455.52L183.81 456.74L184.58 457.94L185.35 459.13L186.12 460.3L186.89 461.45L187.66 462.58L188.44 463.7L189.21 464.81L189.98 465.89L190.75 466.96L191.52 468.02L192.29 469.06L193.06 470.09L193.83 471.1L194.6 472.09L195.37 473.08L196.14 474.04L196.91 475L197.68 475.94L198.45 476.86L199.22 477.77L199.99 478.67L200.76 479.56L201.54 480.43L202.31 481.29L203.08 482.14L203.85 482.97L204.62 483.8L205.39 484.61L206.16 485.41L206.93 486.19L207.7 486.97L208.47 487.73L209.24 488.49L210.01 489.23L210.78 489.96L211.55 490.68L212.32 491.39L213.1 492.09L213.87 492.78L214.64 493.45L215.41 494.12L216.18 494.78L216.95 495.43L217.72 496.07L218.49 496.7L219.26 497.31L220.03 497.92L220.8 498.53L221.57 499.12L222.34 499.7L223.11 500.27L223.88 500.84L224.65 501.4L225.43 501.94L226.2 502.48L226.97 503.02L227.74 503.54L228.51 504.05L229.28 504.56L230.05 505.06L230.82 505.55L231.59 506.04L232.36 506.52L233.13 506.99L233.9 507.45L234.67 507.9L235.44 508.35L236.21 508.79L236.98 509.23L237.75 509.66L238.53 510.08L239.3 510.49L240.07 510.9L240.84 511.3L241.61 511.7L242.38 512.09L243.15 512.47L243.92 512.85L244.69 513.22L245.46 513.58L246.23 513.94L247 514.3L247.77 514.64L248.54 514.99L249.31 515.32L250.09 515.66L250.86 515.98L251.63 516.3L252.4 516.62L253.17 516.93L253.94 517.24L254.71 517.54L255.48 517.83L256.25 518.13L257.02 518.41L257.79 518.7L258.56 518.97L259.33 519.25L260.1 519.52L260.87 519.78L261.64 520.04L262.42 520.3L263.19 520.55L263.96 520.8L264.73 521.04L265.5 521.28L266.27 521.51L267.04 521.75L267.81 521.97L268.58 522.2L269.35 522.42L270.12 522.64L270.89 522.85L271.66 523.06L272.43 523.27L273.2 523.47L273.97 523.67L274.75 523.86L275.52 524.06L276.29 524.25L277.06 524.43L277.83 524.62L278.6 524.8L279.37 524.97L280.14 525.15L280.91 525.32L281.68 525.49L282.45 525.65L283.22 525.82L283.99 525.98L284.76 526.14L285.53 526.29L286.3 526.44L287.07 526.59L287.85 526.74L288.62 526.88L289.39 527.03L290.16 527.16L290.93 527.3L291.7 527.44L292.47 527.57L293.24 527.7L294.01 527.83L294.78 527.95L295.55 528.08L296.32 528.2L297.09 528.32L297.86 528.43L298.63 528.55L299.4 528.66L300.18 528.77L300.95 528.88L301.72 528.99L302.49 529.1L303.26 529.2L304.03 529.3L304.8 529.4L305.57 529.5L306.34 529.6L307.11 529.69L307.88 529.78L308.65 529.87L309.42 529.96L310.19 530.05L310.96 530.14L311.74 530.22L312.51 530.31L313.28 530.39L314.05 530.47L314.82 530.55L315.59 530.63L316.36 530.7L317.13 530.78L317.9 530.85L318.67 530.92L319.44 530.99L320.21 531.06L320.98 531.13L321.75 531.19L322.52 531.26L323.29 531.32L324.06 531.39L324.84 531.45L325.61 531.51L326.38 531.57L327.15 531.63L327.92 531.68L328.69 531.74L329.46 531.79L330.23 531.85L331 531.9L331.77 531.95L332.54 532L333.31 532.05L334.08 532.1L334.85 532.14L335.62 532.19L336.39 532.23L337.17 532.28L337.94 532.32L338.71 532.36L339.48 532.41L340.25 532.45L341.02 532.49L341.79 532.52L342.56 532.56L343.33 532.6L344.1 532.63L344.87 532.67L345.64 532.7L346.41 532.74L347.18 532.77L347.95 532.8L348.73 532.83L349.5 532.86L350.27 532.89L351.04 532.92L351.81 532.95L352.58 532.97L353.35 533L354.12 533.02L354.89 533.05L355.66 533.07L356.43 533.09L357.2 533.12L357.97 533.14L358.74 533.16L359.51 533.18L360.28 533.2L361.06 533.22L361.83 533.23L362.6 533.25L363.37 533.27L364.14 533.28L364.91 533.3L365.68 533.31L366.45 533.32L367.22 533.34L367.99 533.35L368.76 533.36L369.53 533.37L370.3 533.38L371.07 533.39L371.84 533.39L372.61 533.4L373.39 533.41L374.16 533.41L374.93 533.42L375.7 533.42L376.47 533.43L377.24 533.43L378.01 533.43L378.78 533.43L379.55 533.44" fill="none" stroke="#ff0000" stroke-width="1.9"/>
<path d="M71.3 348.17L72.07 349.31L72.84 350.44L73.61 351.56L74.38 352.68L75.15 353.79L75.92 354.89L76.69 355.99L77.46 357.08L78.24 358.16L79.01 359.23L79.78 360.3L80.55 361.36L81.32 362.41L82.09 363.46L82.86 364.5L83.63 365.54L84.4 366.57L85.17 367.6L85.94 368.62L86.71 369.63L87.48 370.64L88.25 371.64L89.02 372.64L89.79 373.64L90.57 374.63L91.34 375.61L92.11 376.59L92.88 377.56L93.65 378.53L94.42 379.5L95.19 380.46L95.96 381.42L96.73 382.37L97.5 383.32L98.27 384.27L99.04 385.21L99.81 386.15L100.58 387.08L101.35 388.01L102.12 388.94L102.9 389.86L103.67 390.78L104.44 391.7L105.21 392.61L105.98 393.52L106.75 394.42L107.52 395.33L108.29 396.23L109.06 397.12L109.83 398.02L110.6 398.91L111.37 399.79L112.14 400.68L112.91 401.56L113.68 402.44L114.46 403.32L115.23 404.19L116 405.06L116.77 405.93L117.54 406.79L118.31 407.66L119.08 408.52L119.85 409.37L120.62 410.23L121.39 411.08L122.16 411.93L122.93 412.78L123.7 413.62L124.47 414.46L125.24 415.3L126.01 416.14L126.79 416.97L127.56 417.8L128.33 418.63L129.1 419.46L129.87 420.29L130.64 421.11L131.41 421.93L132.18 422.75L132.95 423.56L133.72 424.37L134.49 425.18L135.26 425.99L136.03 426.8L136.8 427.6L137.57 428.4L138.34 429.2L139.11 430L139.89 430.79L140.66 431.58L141.43 432.37L142.2 433.16L142.97 433.94L143.74 434.72L144.51 435.5L145.28 436.28L146.05 437.05L146.82 437.82L147.59 438.59L148.36 439.36L149.13 440.12L149.9 440.88L150.67 441.64L151.44 442.4L152.22 443.15L152.99 443.9L153.76 444.65L154.53 445.4L155.3 446.14L156.07 446.88L156.84 447.62L157.61 448.35L158.38 449.09L159.15 449.82L159.92 450.54L160.69 451.27L161.46 451.99L162.23 452.71L163 453.42L163.77 454.14L164.55 454.85L165.32 455.55L166.09 456.26L166.86 456.96L167.63 457.66L168.4 458.35L169.17 459.04L169.94 459.73L170.71 460.42L171.48 461.1L172.25 461.78L173.02 462.46L173.79 463.13L174.56 463.81L175.33 464.47L176.11 465.14L176.88 465.8L177.65 466.46L178.42 467.11L179.19 467.76L179.96 468.41L180.73 469.06L181.5 469.7L182.27 470.34L183.04 470.97L183.81 471.6L184.58 472.23L185.35 472.86L186.12 473.48L186.89 474.1L187.66 474.71L188.44 475.32L189.21 475.93L189.98 476.54L190.75 477.14L191.52 477.73L192.29 478.33L193.06 478.92L193.83 479.51L194.6 480.09L195.37 480.67L196.14 481.24L196.91 481.82L197.68 482.39L198.45 482.95L199.22 483.51L199.99 484.07L200.76 484.62L201.54 485.17L202.31 485.72L203.08 486.26L203.85 486.8L204.62 487.34L205.39 487.87L206.16 488.4L206.93 488.92L207.7 489.44L208.47 489.96L209.24 490.47L210.01 490.98L210.78 491.49L211.55 491.99L212.32 492.49L213.1 492.98L213.87 493.47L214.64 493.96L215.41 494.44L216.18 494.92L216.95 495.4L217.72 495.87L218.49 496.34L219.26 496.8L220.03 497.26L220.8 497.72L221.57 498.17L222.34 498.62L223.11 499.07L223.88 499.51L224.65 499.95L225.43 500.38L226.2 500.81L226.97 501.24L227.74 501.66L228.51 502.08L229.28 502.5L230.05 502.91L230.82 503.32L231.59 503.72L232.36 504.12L233.13 504.52L233.9 504.91L234.67 505.3L235.44 505.69L236.21 506.07L236.98 506.45L237.75 506.82L238.53 507.19L239.3 507.56L240.07 507.93L240.84 508.29L241.61 508.65L242.38 509L243.15 509.35L243.92 509.7L244.69 510.04L245.46 510.38L246.23 510.72L247 511.05L247.77 511.38L248.54 511.7L249.31 512.03L250.09 512.35L250.86 512.66L251.63 512.97L252.4 513.28L253.17 513.59L253.94 513.89L254.71 514.19L255.48 514.49L256.25 514.78L257.02 515.07L257.79 515.36L258.56 515.64L259.33 515.92L260.1 516.2L260.87 516.47L261.64 516.74L262.42 517.01L263.19 517.27L263.96 517.53L264.73 517.79L265.5 518.05L266.27 518.3L267.04 518.55L267.81 518.8L268.58 519.04L269.35 519.28L270.12 519.52L270.89 519.76L271.66 519.99L272.43 520.22L273.2 520.44L273.97 520.67L274.75 520.89L275.52 521.11L276.29 521.32L277.06 521.54L277.83 521.75L278.6 521.96L279.37 522.16L280.14 522.36L280.91 522.56L281.68 522.76L282.45 522.96L283.22 523.15L283.99 523.34L284.76 523.53L285.53 523.71L286.3 523.9L287.07 524.08L287.85 524.25L288.62 524.43L289.39 524.6L290.16 524.78L290.93 524.94L291.7 525.11L292.47 525.28L293.24 525.44L294.01 525.6L294.78 525.76L295.55 525.91L296.32 526.07L297.09 526.22L297.86 526.37L298.63 526.52L299.4 526.66L300.18 526.8L300.95 526.95L301.72 527.09L302.49 527.22L303.26 527.36L304.03 527.49L304.8 527.63L305.57 527.76L306.34 527.88L307.11 528.01L307.88 528.14L308.65 528.26L309.42 528.38L310.19 528.5L310.96 528.62L311.74 528.73L312.51 528.85L313.28 528.96L314.05 529.07L314.82 529.18L315.59 529.29L316.36 529.4L317.13 529.5L317.9 529.61L318.67 529.71L319.44 529.81L320.21 529.91L320.98 530.01L321.75 530.1L322.52 530.2L323.29 530.29L324.06 530.38L324.84 530.47L325.61 530.56L326.38 530.65L327.15 530.73L327.92 530.82L328.69 530.9L329.46 530.99L330.23 531.07L331 531.15L331.77 531.23L332.54 531.3L333.31 531.38L334.08 531.46L334.85 531.53L335.62 531.6L336.39 531.68L337.17 531.75L337.94 531.82L338.71 531.89L339.48 531.95L340.25 532.02L341.02 532.08L341.79 532.15L342.56 532.21L343.33 532.28L344.1 532.34L344.87 532.4L345.64 532.46L346.41 532.52L347.18 532.57L347.95 532.63L348.73 532.69L349.5 532.74L350.27 532.79L351.04 532.85L351.81 532.9L352.58 532.95L353.35 533L354.12 533.05L354.89 533.1L355.66 533.15L356.43 533.2L357.2 533.24L357.97 533.29L358.74 533.33L359.51 533.38L360.28 533.42L361.06 533.47L361.83 533.51L362.6 533.55L363.37 533.59L364.14 533.63L364.91 533.67L365.68 533.71L366.45 533.75L367.22 533.78L367.99 533.82L368.76 533.86L369.53 533.89L370.3 533.93L371.07 533.96L371.84 533.99L372.61 534.03L373.39 534.06L374.16 534.09L374.93 534.12L375.7 534.15L376.47 534.18L377.24 534.21L378.01 534.24L378.78 534.27L379.55 534.3" fill="none" stroke="#00ff00" stroke-width="1.9" stroke-dasharray="4.55 2.27"/>
<path d="M71.3 507.35L72.07 507.48L72.84 507.62L73.61 507.75L74.38 507.88L75.15 508.02L75.92 508.15L76.69 508.28L77.46 508.41L78.24 508.54L79.01 508.67L79.78 508.79L80.55 508.92L81.32 509.05L82.09 509.17L82.86 509.3L83.63 509.42L84.4 509.54L85.17 509.67L85.94 509.79L86.71 509.91L87.48 510.03L88.25 510.15L89.02 510.27L89.79 510.39L90.57 510.51L91.34 510.62L92.11 510.74L92.88 510.86L93.65 510.97L94.42 511.09L95.19 511.2L95.96 511.32L96.73 511.43L97.5 511.54L98.27 511.65L99.04 511.76L99.81 511.87L100.58 511.98L101.35 512.09L102.12 512.2L102.9 512.31L103.67 512.42L104.44 512.53L105.21 512.63L105.98 512.74L106.75 512.85L107.52 512.95L108.29 513.06L109.06 513.16L109.83 513.26L110.6 513.37L111.37 513.47L112.14 513.57L112.91 513.67L113.68 513.78L114.46 513.88L115.23 513.98L116 514.08L116.77 514.18L117.54 514.28L118.31 514.37L119.08 514.47L119.85 514.57L120.62 514.67L121.39 514.76L122.16 514.86L122.93 514.96L123.7 515.05L124.47 515.15L125.24 515.24L126.01 515.33L126.79 515.43L127.56 515.52L128.33 515.61L129.1 515.71L129.87 515.8L130.64 515.89L131.41 515.98L132.18 516.07L132.95 516.16L133.72 516.25L134.49 516.34L135.26 516.43L136.03 516.52L136.8 516.61L137.57 516.7L138.34 516.79L139.11 516.88L139.89 516.96L140.66 517.05L141.43 517.14L142.2 517.22L142.97 517.31L143.74 517.4L144.51 517.48L145.28 517.57L146.05 517.65L146.82 517.73L147.59 517.82L148.36 517.9L149.13 517.99L149.9 518.07L150.67 518.15L151.44 518.23L152.22 518.32L152.99 518.4L153.76 518.48L154.53 518.56L155.3 518.64L156.07 518.72L156.84 518.8L157.61 518.88L158.38 518.96L159.15 519.04L159.92 519.12L160.69 519.2L161.46 519.28L162.23 519.36L163 519.43L163.77 519.51L164.55 519.59L165.32 519.67L166.09 519.74L166.86 519.82L167.63 519.9L168.4 519.97L169.17 520.05L169.94 520.12L170.71 520.2L171.48 520.27L172.25 520.35L173.02 520.42L173.79 520.5L174.56 520.57L175.33 520.65L176.11 520.72L176.88 520.79L177.65 520.87L178.42 520.94L179.19 521.01L179.96 521.08L180.73 521.16L181.5 521.23L182.27 521.3L183.04 521.37L183.81 521.44L184.58 521.51L185.35 521.59L186.12 521.66L186.89 521.73L187.66 521.8L188.44 521.87L189.21 521.94L189.98 522.01L190.75 522.07L191.52 522.14L192.29 522.21L193.06 522.28L193.83 522.35L194.6 522.42L195.37 522.49L196.14 522.55L196.91 522.62L197.68 522.69L198.45 522.76L199.22 522.82L199.99 522.89L200.76 522.96L201.54 523.02L202.31 523.09L203.08 523.15L203.85 523.22L204.62 523.29L205.39 523.35L206.16 523.42L206.93 523.48L207.7 523.55L208.47 523.61L209.24 523.68L210.01 523.74L210.78 523.8L211.55 523.87L212.32 523.93L213.1 523.99L213.87 524.06L214.64 524.12L215.41 524.18L216.18 524.25L216.95 524.31L217.72 524.37L218.49 524.43L219.26 524.5L220.03 524.56L220.8 524.62L221.57 524.68L222.34 524.74L223.11 524.8L223.88 524.86L224.65 524.92L225.43 524.98L226.2 525.04L226.97 525.11L227.74 525.17L228.51 525.22L229.28 525.28L230.05 525.34L230.82 525.4L231.59 525.46L232.36 525.52L233.13 525.58L233.9 525.64L234.67 525.7L235.44 525.76L236.21 525.81L236.98 525.87L237.75 525.93L238.53 525.99L239.3 526.04L240.07 526.1L240.84 526.16L241.61 526.22L242.38 526.27L243.15 526.33L243.92 526.39L244.69 526.44L245.46 526.5L246.23 526.55L247 526.61L247.77 526.66L248.54 526.72L249.31 526.78L250.09 526.83L250.86 526.89L251.63 526.94L252.4 526.99L253.17 527.05L253.94 527.1L254.71 527.16L255.48 527.21L256.25 527.26L257.02 527.32L257.79 527.37L258.56 527.42L259.33 527.48L260.1 527.53L260.87 527.58L261.64 527.64L262.42 527.69L263.19 527.74L263.96 527.79L264.73 527.84L265.5 527.9L266.27 527.95L267.04 528L267.81 528.05L268.58 528.1L269.35 528.15L270.12 528.2L270.89 528.25L271.66 528.31L272.43 528.36L273.2 528.41L273.97 528.46L274.75 528.51L275.52 528.55L276.29 528.6L277.06 528.65L277.83 528.7L278.6 528.75L279.37 528.8L280.14 528.85L280.91 528.9L281.68 528.95L282.45 528.99L283.22 529.04L283.99 529.09L284.76 529.14L285.53 529.19L286.3 529.23L287.07 529.28L287.85 529.33L288.62 529.37L289.39 529.42L290.16 529.47L290.93 529.51L291.7 529.56L292.47 529.61L293.24 529.65L294.01 529.7L294.78 529.74L295.55 529.79L296.32 529.84L297.09 529.88L297.86 529.93L298.63 529.97L299.4 530.01L300.18 530.06L300.95 530.1L301.72 530.15L302.49 530.19L303.26 530.24L304.03 530.28L304.8 530.32L305.57 530.37L306.34 530.41L307.11 530.45L307.88 530.5L308.65 530.54L309.42 530.58L310.19 530.62L310.96 530.67L311.74 530.71L312.51 530.75L313.28 530.79L314.05 530.83L314.82 530.87L315.59 530.92L316.36 530.96L317.13 531L317.9 531.04L318.67 531.08L319.44 531.12L320.21 531.16L320.98 531.2L321.75 531.24L322.52 531.28L323.29 531.32L324.06 531.36L324.84 531.4L325.61 531.44L326.38 531.48L327.15 531.52L327.92 531.56L328.69 531.59L329.46 531.63L330.23 531.67L331 531.71L331.77 531.75L332.54 531.78L333.31 531.82L334.08 531.86L334.85 531.9L335.62 531.93L336.39 531.97L337.17 532.01L337.94 532.04L338.71 532.08L339.48 532.12L340.25 532.15L341.02 532.19L341.79 532.22L342.56 532.26L343.33 532.3L344.1 532.33L344.87 532.37L345.64 532.4L346.41 532.44L347.18 532.47L347.95 532.51L348.73 532.54L349.5 532.57L350.27 532.61L351.04 532.64L351.81 532.68L352.58 532.71L353.35 532.74L354.12 532.78L354.89 532.81L355.66 532.84L356.43 532.88L357.2 532.91L357.97 532.94L358.74 532.97L359.51 533.01L360.28 533.04L361.06 533.07L361.83 533.1L362.6 533.13L363.37 533.16L364.14 533.2L364.91 533.23L365.68 533.26L366.45 533.29L367.22 533.32L367.99 533.35L368.76 533.38L369.53 533.41L370.3 533.44L371.07 533.47L371.84 533.5L372.61 533.53L373.39 533.56L374.16 533.59L374.93 533.62L375.7 533.65L376.47 533.67L377.24 533.7L378.01 533.73L378.78 533.76L379.55 533.79" fill="none" stroke="#0000ff" stroke-width="1.9" stroke-dasharray="2.27 3.41" stroke-dashoffset="-2.5"/>
<text x="225.43" y="315" text-anchor="middle" font-size="15.8">Q<tspan font-size="12.6" dy="-8.2">2</tspan><tspan dy="8.2">= 2.5</tspan></text>
<text x="225.62" y="566.45" text-anchor="middle" font-size="15.8">x</text>
<text transform="translate(20.8 428.18) rotate(-90)" text-anchor="middle" font-size="15.8">xG</text>
<text x="477.8" y="560.75" text-anchor="middle" font-size="15.8">10<tspan font-size="12.6" dy="-7.9">-7</tspan></text>
<text x="539.45" y="560.75" text-anchor="middle" font-size="15.8">10<tspan font-size="12.6" dy="-7.9">-6</tspan></text>
<text x="601.1" y="560.75" text-anchor="middle" font-size="15.8">10<tspan font-size="12.6" dy="-7.9">-5</tspan></text>
<text x="662.75" y="560.75" text-anchor="middle" font-size="15.8">10<tspan font-size="12.6" dy="-7.9">-4</tspan></text>
<text x="724.4" y="560.75" text-anchor="middle" font-size="15.8">10<tspan font-size="12.6" dy="-7.9">-3</tspan></text>
<text x="786.05" y="560.75" text-anchor="middle" font-size="15.8">10<tspan font-size="12.6" dy="-7.9">-2</tspan></text>
<text x="468" y="543.1" text-anchor="end" font-size="15.8">0</text>
<text x="468" y="488.31" text-anchor="end" font-size="15.8">100</text>
<text x="468" y="433.88" text-anchor="end" font-size="15.8">200</text>
<text x="468" y="379.44" text-anchor="end" font-size="15.8">300</text>
<text x="468" y="325" text-anchor="end" font-size="15.8">400</text>
<path d="M539.45 537.35v-7M539.45 319.6v7M601.1 537.35v-7M601.1 319.6v7M662.75 537.35v-7M662.75 319.6v7M724.4 537.35v-7M724.4 319.6v7M477.8 482.91h7M786.05 482.91h-7M477.8 428.48h7M786.05 428.48h-7M477.8 374.04h7M786.05 374.04h-7" fill="none" stroke="#000" stroke-width="1.5"/>
<rect x="477.8" y="319.6" width="308.25" height="217.75" fill="none" stroke="#000" stroke-width="1.5"/>
<path d="M542.19 319.6L542.53 321.03L543.3 324.24L544.07 327.41L544.84 330.52L545.62 333.58L546.39 336.6L547.16 339.57L547.93 342.49L548.7 345.37L549.47 348.2L550.24 350.99L551.01 353.74L551.78 356.44L552.55 359.11L553.32 361.73L554.09 364.31L554.86 366.86L555.63 369.36L556.4 371.83L557.17 374.26L557.94 376.66L558.72 379.02L559.49 381.34L560.26 383.63L561.03 385.88L561.8 388.1L562.57 390.29L563.34 392.45L564.11 394.57L564.88 396.66L565.65 398.73L566.42 400.76L567.19 402.76L567.96 404.73L568.73 406.68L569.5 408.59L570.27 410.48L571.05 412.34L571.82 414.17L572.59 415.98L573.36 417.76L574.13 419.51L574.9 421.24L575.67 422.95L576.44 424.63L577.21 426.28L577.98 427.91L578.75 429.52L579.52 431.11L580.29 432.67L581.06 434.21L581.83 435.73L582.61 437.22L583.38 438.7L584.15 440.15L584.92 441.58L585.69 443L586.46 444.39L587.23 445.76L588 447.11L588.77 448.45L589.54 449.76L590.31 451.06L591.08 452.33L591.85 453.59L592.62 454.83L593.39 456.06L594.16 457.26L594.93 458.45L595.71 459.62L596.48 460.78L597.25 461.92L598.02 463.04L598.79 464.14L599.56 465.23L600.33 466.31L601.1 467.37L601.87 468.41L602.64 469.44L603.41 470.46L604.18 471.46L604.95 472.44L605.72 473.41L606.49 474.37L607.26 475.32L608.04 476.25L608.81 477.16L609.58 478.07L610.35 478.96L611.12 479.84L611.89 480.7L612.66 481.56L613.43 482.4L614.2 483.23L614.97 484.04L615.74 484.85L616.51 485.64L617.28 486.42L618.05 487.19L618.82 487.95L619.6 488.7L620.37 489.44L621.14 490.16L621.91 490.88L622.68 491.59L623.45 492.28L624.22 492.97L624.99 493.64L625.76 494.31L626.53 494.96L627.3 495.61L628.07 496.25L628.84 496.87L629.61 497.49L630.38 498.1L631.15 498.7L631.92 499.29L632.7 499.87L633.47 500.44L634.24 501.01L635.01 501.57L635.78 502.11L636.55 502.65L637.32 503.19L638.09 503.71L638.86 504.23L639.63 504.73L640.4 505.24L641.17 505.73L641.94 506.21L642.71 506.69L643.48 507.16L644.25 507.63L645.03 508.08L645.8 508.54L646.57 508.98L647.34 509.42L648.11 509.84L648.88 510.27L649.65 510.69L650.42 511.1L651.19 511.5L651.96 511.9L652.73 512.29L653.5 512.68L654.27 513.06L655.04 513.43L655.81 513.8L656.59 514.16L657.36 514.52L658.13 514.87L658.9 515.21L659.67 515.56L660.44 515.89L661.21 516.22L661.98 516.55L662.75 516.87L663.52 517.18L664.29 517.49L665.06 517.79L665.83 518.09L666.6 518.39L667.37 518.68L668.14 518.97L668.91 519.25L669.69 519.53L670.46 519.8L671.23 520.07L672 520.33L672.77 520.59L673.54 520.85L674.31 521.1L675.08 521.35L675.85 521.59L676.62 521.83L677.39 522.06L678.16 522.3L678.93 522.52L679.7 522.75L680.47 522.97L681.25 523.19L682.02 523.4L682.79 523.61L683.56 523.82L684.33 524.02L685.1 524.22L685.87 524.42L686.64 524.61L687.41 524.8L688.18 524.99L688.95 525.17L689.72 525.36L690.49 525.53L691.26 525.71L692.03 525.88L692.8 526.05L693.57 526.22L694.35 526.38L695.12 526.54L695.89 526.7L696.66 526.86L697.43 527.01L698.2 527.16L698.97 527.31L699.74 527.46L700.51 527.6L701.28 527.74L702.05 527.88L702.82 528.02L703.59 528.15L704.36 528.28L705.13 528.41L705.9 528.54L706.68 528.66L707.45 528.79L708.22 528.91L708.99 529.03L709.76 529.14L710.53 529.26L711.3 529.37L712.07 529.48L712.84 529.59L713.61 529.7L714.38 529.8L715.15 529.91L715.92 530.01L716.69 530.11L717.46 530.21L718.24 530.3L719.01 530.4L719.78 530.49L720.55 530.58L721.32 530.67L722.09 530.76L722.86 530.85L723.63 530.93L724.4 531.02L725.17 531.1L725.94 531.18L726.71 531.26L727.48 531.34L728.25 531.41L729.02 531.49L729.79 531.56L730.57 531.64L731.34 531.71L732.11 531.78L732.88 531.85L733.65 531.91L734.42 531.98L735.19 532.04L735.96 532.11L736.73 532.17L737.5 532.23L738.27 532.29L739.04 532.35L739.81 532.41L740.58 532.47L741.35 532.52L742.12 532.58L742.89 532.63L743.67 532.69L744.44 532.74L745.21 532.79L745.98 532.84L746.75 532.89L747.52 532.94L748.29 532.98L749.06 533.03L749.83 533.08L750.6 533.12L751.37 533.16L752.14 533.21L752.91 533.25L753.68 533.29L754.45 533.33L755.22 533.37L756 533.41L756.77 533.45L757.54 533.48L758.31 533.52L759.08 533.56L759.85 533.59L760.62 533.63L761.39 533.66L762.16 533.69L762.93 533.72L763.7 533.76L764.47 533.79L765.24 533.82L766.01 533.85L766.78 533.87L767.55 533.9L768.33 533.93L769.1 533.96L769.87 533.98L770.64 534.01L771.41 534.03L772.18 534.06L772.95 534.08L773.72 534.1L774.49 534.13L775.26 534.15L776.03 534.17L776.8 534.19L777.57 534.21L778.34 534.23L779.11 534.25L779.88 534.27L780.66 534.28L781.43 534.3L782.2 534.32L782.97 534.33L783.74 534.35L784.51 534.36L785.28 534.38L786.05 534.39" fill="none" stroke="#ff0000" stroke-width="1.9"/>
<path d="M481.69 319.6L482.42 320.84L483.19 322.15L483.96 323.45L484.74 324.75L485.51 326.05L486.28 327.34L487.05 328.63L487.82 329.91L488.59 331.2L489.36 332.48L490.13 333.75L490.9 335.02L491.67 336.29L492.44 337.56L493.21 338.82L493.98 340.08L494.75 341.33L495.52 342.58L496.3 343.83L497.07 345.08L497.84 346.32L498.61 347.55L499.38 348.79L500.15 350.02L500.92 351.24L501.69 352.47L502.46 353.69L503.23 354.9L504 356.11L504.77 357.32L505.54 358.53L506.31 359.73L507.08 360.92L507.85 362.12L508.62 363.31L509.4 364.49L510.17 365.68L510.94 366.86L511.71 368.03L512.48 369.2L513.25 370.37L514.02 371.53L514.79 372.69L515.56 373.85L516.33 375L517.1 376.15L517.87 377.29L518.64 378.43L519.41 379.57L520.18 380.7L520.96 381.83L521.73 382.95L522.5 384.07L523.27 385.19L524.04 386.3L524.81 387.41L525.58 388.52L526.35 389.62L527.12 390.71L527.89 391.81L528.66 392.89L529.43 393.98L530.2 395.06L530.97 396.13L531.74 397.2L532.51 398.27L533.29 399.34L534.06 400.39L534.83 401.45L535.6 402.5L536.37 403.55L537.14 404.59L537.91 405.63L538.68 406.66L539.45 407.69L540.22 408.71L540.99 409.73L541.76 410.75L542.53 411.76L543.3 412.77L544.07 413.77L544.84 414.77L545.62 415.76L546.39 416.75L547.16 417.74L547.93 418.72L548.7 419.69L549.47 420.66L550.24 421.63L551.01 422.59L551.78 423.55L552.55 424.5L553.32 425.45L554.09 426.4L554.86 427.34L555.63 428.27L556.4 429.2L557.17 430.13L557.94 431.05L558.72 431.97L559.49 432.88L560.26 433.79L561.03 434.69L561.8 435.59L562.57 436.48L563.34 437.37L564.11 438.25L564.88 439.13L565.65 440.01L566.42 440.87L567.19 441.74L567.96 442.6L568.73 443.46L569.5 444.31L570.27 445.15L571.05 445.99L571.82 446.83L572.59 447.66L573.36 448.49L574.13 449.31L574.9 450.13L575.67 450.94L576.44 451.75L577.21 452.55L577.98 453.35L578.75 454.14L579.52 454.93L580.29 455.71L581.06 456.49L581.83 457.27L582.61 458.04L583.38 458.8L584.15 459.56L584.92 460.32L585.69 461.07L586.46 461.81L587.23 462.55L588 463.29L588.77 464.02L589.54 464.74L590.31 465.47L591.08 466.18L591.85 466.89L592.62 467.6L593.39 468.3L594.16 469L594.93 469.69L595.71 470.38L596.48 471.06L597.25 471.74L598.02 472.41L598.79 473.08L599.56 473.75L600.33 474.41L601.1 475.06L601.87 475.71L602.64 476.35L603.41 477L604.18 477.63L604.95 478.26L605.72 478.89L606.49 479.51L607.26 480.13L608.04 480.74L608.81 481.35L609.58 481.95L610.35 482.55L611.12 483.14L611.89 483.73L612.66 484.31L613.43 484.89L614.2 485.47L614.97 486.04L615.74 486.6L616.51 487.17L617.28 487.72L618.05 488.28L618.82 488.82L619.6 489.37L620.37 489.91L621.14 490.44L621.91 490.97L622.68 491.5L623.45 492.02L624.22 492.53L624.99 493.05L625.76 493.55L626.53 494.06L627.3 494.56L628.07 495.05L628.84 495.54L629.61 496.03L630.38 496.51L631.15 496.99L631.92 497.46L632.7 497.93L633.47 498.4L634.24 498.86L635.01 499.32L635.78 499.77L636.55 500.22L637.32 500.66L638.09 501.1L638.86 501.54L639.63 501.97L640.4 502.4L641.17 502.82L641.94 503.24L642.71 503.66L643.48 504.07L644.25 504.48L645.03 504.88L645.8 505.29L646.57 505.68L647.34 506.07L648.11 506.46L648.88 506.85L649.65 507.23L650.42 507.61L651.19 507.98L651.96 508.35L652.73 508.72L653.5 509.08L654.27 509.44L655.04 509.8L655.81 510.15L656.59 510.5L657.36 510.84L658.13 511.18L658.9 511.52L659.67 511.85L660.44 512.18L661.21 512.51L661.98 512.83L662.75 513.15L663.52 513.47L664.29 513.78L665.06 514.09L665.83 514.4L666.6 514.7L667.37 515L668.14 515.3L668.91 515.6L669.69 515.89L670.46 516.17L671.23 516.46L672 516.74L672.77 517.02L673.54 517.29L674.31 517.56L675.08 517.83L675.85 518.1L676.62 518.36L677.39 518.62L678.16 518.88L678.93 519.13L679.7 519.38L680.47 519.63L681.25 519.87L682.02 520.12L682.79 520.36L683.56 520.59L684.33 520.83L685.1 521.06L685.87 521.29L686.64 521.51L687.41 521.73L688.18 521.95L688.95 522.17L689.72 522.39L690.49 522.6L691.26 522.81L692.03 523.02L692.8 523.22L693.57 523.42L694.35 523.62L695.12 523.82L695.89 524.02L696.66 524.21L697.43 524.4L698.2 524.59L698.97 524.77L699.74 524.96L700.51 525.14L701.28 525.31L702.05 525.49L702.82 525.67L703.59 525.84L704.36 526.01L705.13 526.17L705.9 526.34L706.68 526.5L707.45 526.66L708.22 526.82L708.99 526.98L709.76 527.14L710.53 527.29L711.3 527.44L712.07 527.59L712.84 527.73L713.61 527.88L714.38 528.02L715.15 528.16L715.92 528.3L716.69 528.44L717.46 528.58L718.24 528.71L719.01 528.84L719.78 528.97L720.55 529.1L721.32 529.23L722.09 529.35L722.86 529.48L723.63 529.6L724.4 529.72L725.17 529.84L725.94 529.95L726.71 530.07L727.48 530.18L728.25 530.29L729.02 530.4L729.79 530.51L730.57 530.62L731.34 530.73L732.11 530.83L732.88 530.93L733.65 531.03L734.42 531.13L735.19 531.23L735.96 531.33L736.73 531.42L737.5 531.52L738.27 531.61L739.04 531.7L739.81 531.79L740.58 531.88L741.35 531.97L742.12 532.06L742.89 532.14L743.67 532.23L744.44 532.31L745.21 532.39L745.98 532.47L746.75 532.55L747.52 532.63L748.29 532.7L749.06 532.78L749.83 532.85L750.6 532.93L751.37 533L752.14 533.07L752.91 533.14L753.68 533.21L754.45 533.28L755.22 533.34L756 533.41L756.77 533.48L757.54 533.54L758.31 533.6L759.08 533.67L759.85 533.73L760.62 533.79L761.39 533.85L762.16 533.9L762.93 533.96L763.7 534.02L764.47 534.07L765.24 534.13L766.01 534.18L766.78 534.24L767.55 534.29L768.33 534.34L769.1 534.39L769.87 534.44L770.64 534.49L771.41 534.54L772.18 534.58L772.95 534.63L773.72 534.68L774.49 534.72L775.26 534.77L776.03 534.81L776.8 534.85L777.57 534.9L778.34 534.94L779.11 534.98L779.88 535.02L780.66 535.06L781.43 535.1L782.2 535.14L782.97 535.18L783.74 535.21L784.51 535.25L785.28 535.29L786.05 535.32" fill="none" stroke="#00ff00" stroke-width="1.9" stroke-dasharray="4.55 2.27"/>
<path d="M477.8 433.73L478.57 434.23L479.34 434.73L480.11 435.23L480.88 435.73L481.65 436.23L482.42 436.73L483.19 437.23L483.96 437.73L484.74 438.23L485.51 438.73L486.28 439.23L487.05 439.73L487.82 440.23L488.59 440.72L489.36 441.22L490.13 441.72L490.9 442.22L491.67 442.71L492.44 443.21L493.21 443.7L493.98 444.2L494.75 444.69L495.52 445.19L496.3 445.68L497.07 446.17L497.84 446.66L498.61 447.15L499.38 447.64L500.15 448.13L500.92 448.62L501.69 449.11L502.46 449.59L503.23 450.08L504 450.56L504.77 451.05L505.54 451.53L506.31 452.01L507.08 452.49L507.85 452.97L508.62 453.45L509.4 453.92L510.17 454.4L510.94 454.87L511.71 455.35L512.48 455.82L513.25 456.29L514.02 456.76L514.79 457.23L515.56 457.7L516.33 458.16L517.1 458.63L517.87 459.09L518.64 459.55L519.41 460.01L520.18 460.47L520.96 460.93L521.73 461.38L522.5 461.84L523.27 462.29L524.04 462.74L524.81 463.19L525.58 463.64L526.35 464.09L527.12 464.54L527.89 464.98L528.66 465.42L529.43 465.86L530.2 466.3L530.97 466.74L531.74 467.18L532.51 467.61L533.29 468.05L534.06 468.48L534.83 468.91L535.6 469.34L536.37 469.76L537.14 470.19L537.91 470.61L538.68 471.03L539.45 471.46L540.22 471.87L540.99 472.29L541.76 472.71L542.53 473.12L543.3 473.53L544.07 473.94L544.84 474.35L545.62 474.76L546.39 475.16L547.16 475.57L547.93 475.97L548.7 476.37L549.47 476.77L550.24 477.16L551.01 477.56L551.78 477.95L552.55 478.34L553.32 478.73L554.09 479.12L554.86 479.51L555.63 479.89L556.4 480.28L557.17 480.66L557.94 481.04L558.72 481.41L559.49 481.79L560.26 482.16L561.03 482.54L561.8 482.91L562.57 483.28L563.34 483.64L564.11 484.01L564.88 484.37L565.65 484.73L566.42 485.09L567.19 485.45L567.96 485.81L568.73 486.16L569.5 486.52L570.27 486.87L571.05 487.22L571.82 487.57L572.59 487.91L573.36 488.26L574.13 488.6L574.9 488.94L575.67 489.28L576.44 489.62L577.21 489.96L577.98 490.29L578.75 490.63L579.52 490.96L580.29 491.29L581.06 491.61L581.83 491.94L582.61 492.26L583.38 492.59L584.15 492.91L584.92 493.23L585.69 493.54L586.46 493.86L587.23 494.18L588 494.49L588.77 494.8L589.54 495.11L590.31 495.42L591.08 495.72L591.85 496.03L592.62 496.33L593.39 496.63L594.16 496.93L594.93 497.23L595.71 497.53L596.48 497.82L597.25 498.11L598.02 498.41L598.79 498.7L599.56 498.98L600.33 499.27L601.1 499.56L601.87 499.84L602.64 500.12L603.41 500.4L604.18 500.68L604.95 500.96L605.72 501.24L606.49 501.51L607.26 501.78L608.04 502.05L608.81 502.32L609.58 502.59L610.35 502.86L611.12 503.13L611.89 503.39L612.66 503.65L613.43 503.91L614.2 504.17L614.97 504.43L615.74 504.69L616.51 504.94L617.28 505.2L618.05 505.45L618.82 505.7L619.6 505.95L620.37 506.2L621.14 506.44L621.91 506.69L622.68 506.93L623.45 507.17L624.22 507.41L624.99 507.65L625.76 507.89L626.53 508.13L627.3 508.36L628.07 508.6L628.84 508.83L629.61 509.06L630.38 509.29L631.15 509.52L631.92 509.75L632.7 509.97L633.47 510.2L634.24 510.42L635.01 510.64L635.78 510.86L636.55 511.08L637.32 511.3L638.09 511.51L638.86 511.73L639.63 511.94L640.4 512.16L641.17 512.37L641.94 512.58L642.71 512.79L643.48 512.99L644.25 513.2L645.03 513.4L645.8 513.61L646.57 513.81L647.34 514.01L648.11 514.21L648.88 514.41L649.65 514.61L650.42 514.8L651.19 515L651.96 515.19L652.73 515.39L653.5 515.58L654.27 515.77L655.04 515.96L655.81 516.15L656.59 516.33L657.36 516.52L658.13 516.7L658.9 516.89L659.67 517.07L660.44 517.25L661.21 517.43L661.98 517.61L662.75 517.79L663.52 517.96L664.29 518.14L665.06 518.31L665.83 518.49L666.6 518.66L667.37 518.83L668.14 519L668.91 519.17L669.69 519.34L670.46 519.5L671.23 519.67L672 519.83L672.77 520L673.54 520.16L674.31 520.32L675.08 520.48L675.85 520.64L676.62 520.8L677.39 520.95L678.16 521.11L678.93 521.27L679.7 521.42L680.47 521.57L681.25 521.72L682.02 521.88L682.79 522.03L683.56 522.17L684.33 522.32L685.1 522.47L685.87 522.61L686.64 522.76L687.41 522.9L688.18 523.05L688.95 523.19L689.72 523.33L690.49 523.47L691.26 523.61L692.03 523.75L692.8 523.88L693.57 524.02L694.35 524.16L695.12 524.29L695.89 524.42L696.66 524.56L697.43 524.69L698.2 524.82L698.97 524.95L699.74 525.08L700.51 525.2L701.28 525.33L702.05 525.46L702.82 525.58L703.59 525.71L704.36 525.83L705.13 525.95L705.9 526.07L706.68 526.19L707.45 526.31L708.22 526.43L708.99 526.55L709.76 526.67L710.53 526.78L711.3 526.9L712.07 527.01L712.84 527.13L713.61 527.24L714.38 527.35L715.15 527.46L715.92 527.57L716.69 527.68L717.46 527.79L718.24 527.9L719.01 528L719.78 528.11L720.55 528.22L721.32 528.32L722.09 528.42L722.86 528.53L723.63 528.63L724.4 528.73L725.17 528.83L725.94 528.93L726.71 529.03L727.48 529.13L728.25 529.22L729.02 529.32L729.79 529.41L730.57 529.51L731.34 529.6L732.11 529.7L732.88 529.79L733.65 529.88L734.42 529.97L735.19 530.06L735.96 530.15L736.73 530.24L737.5 530.33L738.27 530.41L739.04 530.5L739.81 530.59L740.58 530.67L741.35 530.75L742.12 530.84L742.89 530.92L743.67 531L744.44 531.08L745.21 531.16L745.98 531.24L746.75 531.32L747.52 531.4L748.29 531.48L749.06 531.56L749.83 531.63L750.6 531.71L751.37 531.78L752.14 531.86L752.91 531.93L753.68 532L754.45 532.07L755.22 532.15L756 532.22L756.77 532.29L757.54 532.36L758.31 532.42L759.08 532.49L759.85 532.56L760.62 532.63L761.39 532.69L762.16 532.76L762.93 532.82L763.7 532.89L764.47 532.95L765.24 533.01L766.01 533.07L766.78 533.14L767.55 533.2L768.33 533.26L769.1 533.32L769.87 533.37L770.64 533.43L771.41 533.49L772.18 533.55L772.95 533.6L773.72 533.66L774.49 533.72L775.26 533.77L776.03 533.82L776.8 533.88L777.57 533.93L778.34 533.98L779.11 534.03L779.88 534.09L780.66 534.14L781.43 534.19L782.2 534.24L782.97 534.28L783.74 534.33L784.51 534.38L785.28 534.43L786.05 534.47" fill="none" stroke="#0000ff" stroke-width="1.9" stroke-dasharray="2.27 3.41"/>
<text x="631.92" y="315" text-anchor="middle" font-size="15.8">Q<tspan font-size="12.6" dy="-8.2">2</tspan><tspan dy="8.2">= 16</tspan></text>
<text x="632.12" y="566.45" text-anchor="middle" font-size="15.8">x</text>
<text transform="translate(427.3 428.18) rotate(-90)" text-anchor="middle" font-size="15.8">xG</text>
<path d="M641.4 49.7H681.8" fill="none" stroke="#ff0000" stroke-width="1.9"/>
<text x="691.6" y="54.7" font-size="15.8">linear</text>
<path d="M641.4 65.65H681.8" fill="none" stroke="#00ff00" stroke-width="1.9" stroke-dasharray="4.55 2.27"/>
<text x="691.6" y="70.65" font-size="15.8">nonlinear</text>
<path d="M641.4 81.6H681.8" fill="none" stroke="#0000ff" stroke-width="1.9" stroke-dasharray="2.27 3.41"/>
<text x="691.6" y="86.6" font-size="15.8">CTEQ</text>
</svg>
</body>
</html>
